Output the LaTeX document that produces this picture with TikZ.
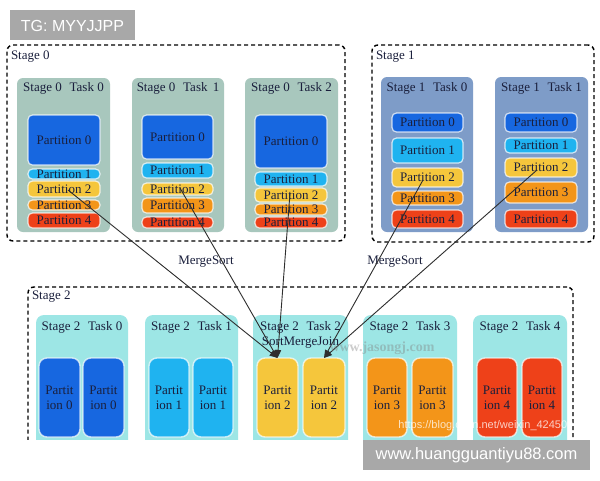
\documentclass[tikz,border=0pt]{standalone}
\usepackage{fontspec}
\setmainfont{Liberation Serif}
\newfontfamily\wmfont{Liberation Sans}
\usetikzlibrary{arrows.meta,calc}
\definecolor{sztask}{HTML}{A8C7BD}
\definecolor{sotask}{HTML}{7E9CC8}
\definecolor{sttask}{HTML}{9DE6E5}
\definecolor{pzero}{HTML}{1767E0}
\definecolor{pone}{HTML}{1FB3F0}
\definecolor{ptwo}{HTML}{F5C63C}
\definecolor{pthree}{HTML}{F39519}
\definecolor{pfour}{HTML}{EE4119}
\definecolor{txtc}{HTML}{1A1F3C}
\definecolor{wmgray}{HTML}{A8A8A8}
\definecolor{arrc}{HTML}{2E2E2E}
\newcommand\rbox[7]{%
  \pgfmathsetmacro\rbcx{(#3+#5)/2}\pgfmathsetmacro\rbcy{(#4+#6)/2}%
  \pgfmathsetmacro\rbww{#5-#3}\pgfmathsetmacro\rbhh{#6-#4}%
  \node[#1, minimum width=\rbww pt, minimum height=\rbhh pt] (#2) at (\rbcx,\rbcy) {#7};}
\begin{document}
\begin{tikzpicture}[x=1pt,y=-1pt,
  every node/.style={inner sep=0pt, outer sep=0pt, text=txtc, font=\fontsize{13}{15}\selectfont},
  stagebox/.style={draw=black, line width=1.4pt, dash pattern=on 4pt off 3pt, rounded corners=6pt},
  tasksz/.style={fill=sztask, rounded corners=6pt},
  taskso/.style={fill=sotask, rounded corners=6pt},
  taskst/.style={fill=sttask, rounded corners=8pt},
  part/.style={draw=white, draw opacity=0.75, line width=1.2pt, rounded corners=4.5pt},
  bigpart/.style={draw=white, draw opacity=0.7, line width=1.4pt, rounded corners=8pt, align=center, font=\fontsize{13}{15}\selectfont},
  conn/.style={draw=arrc, line width=0.9pt, -{Triangle[length=8pt,width=6pt]}},
  lbl/.style={anchor=west},
  ttl/.style={}
]
\useasboundingbox (0,0) rectangle (600,480);
\fill[white] (0,0) rectangle (600,480);

% ---------- Stage 0 ----------
\rbox{stagebox}{stz}{7}{45}{345}{241}{}
\node[lbl] (stzl) at (11,57) {Stage 0};
\rbox{tasksz}{sztz}{17}{78}{110}{232}{}
\rbox{tasksz}{szto}{132}{78}{224}{232}{}
\rbox{tasksz}{sztt}{245}{78}{338}{232}{}
\node (sztzl) at (63.5,88) {Stage 0\hspace{0.6em}Task 0};
\node (sztol) at (178,88) {Stage 0\hspace{0.6em}Task\hspace{0.4em}1};
\node (szttl) at (291.5,88) {Stage 0\hspace{0.6em}Task 2};
% task 0
\rbox{part,fill=pzero}{sztzpz}{28}{115}{100}{165}{Partition 0}
\rbox{part,fill=pone}{sztzpo}{28}{169}{100}{179}{Partition 1}
\rbox{part,fill=ptwo}{sztzpt}{28}{181}{100}{197}{Partition 2}
\rbox{part,fill=pthree}{sztzpr}{28}{200}{100}{210}{Partition 3}
\rbox{part,fill=pfour}{sztzpf}{28}{213}{100}{228}{Partition 4}
% task 1
\rbox{part,fill=pzero}{sztopz}{142}{115}{213}{159}{Partition 0}
\rbox{part,fill=pone}{sztopo}{142}{163}{213}{178}{Partition 1}
\rbox{part,fill=ptwo}{sztopt}{142}{183}{213}{195}{Partition 2}
\rbox{part,fill=pthree}{sztopr}{142}{198}{213}{213}{Partition 3}
\rbox{part,fill=pfour}{sztopf}{142}{217}{213}{228}{Partition 4}
% task 2
\rbox{part,fill=pzero}{szttpz}{255}{115}{327}{168}{Partition 0}
\rbox{part,fill=pone}{szttpo}{255}{172}{327}{186}{Partition 1}
\rbox{part,fill=ptwo}{szttpt}{255}{188}{327}{202}{Partition 2}
\rbox{part,fill=pthree}{szttpr}{255}{204}{327}{215}{Partition 3}
\rbox{part,fill=pfour}{szttpf}{255}{217}{327}{228}{Partition 4}

% ---------- Stage 1 ----------
\rbox{stagebox}{sto}{372}{45}{594}{242}{}
\node[lbl] (stol) at (376,57) {Stage 1};
\rbox{taskso}{sotz}{381}{77}{473}{232}{}
\rbox{taskso}{soto}{495}{77}{588}{232}{}
\node (sotzl) at (427,88) {Stage 1\hspace{0.6em}Task 0};
\node (sotol) at (541.5,88) {Stage 1\hspace{0.6em}Task 1};
\rbox{part,fill=pzero}{sotzpz}{392}{113}{463}{132}{Partition 0}
\rbox{part,fill=pone}{sotzpo}{392}{138}{463}{163}{Partition 1}
\rbox{part,fill=ptwo}{sotzpt}{392}{168}{463}{187}{Partition 2}
\rbox{part,fill=pthree}{sotzpr}{392}{191}{463}{205}{Partition 3}
\rbox{part,fill=pfour}{sotzpf}{392}{210}{463}{228}{Partition 4}
\rbox{part,fill=pzero}{sotopz}{505}{113}{577}{132}{Partition 0}
\rbox{part,fill=pone}{sotopo}{505}{138}{577}{153}{Partition 1}
\rbox{part,fill=ptwo}{sotopt}{505}{158}{577}{177}{Partition 2}
\rbox{part,fill=pthree}{sotopr}{505}{182}{577}{203}{Partition 3}
\rbox{part,fill=pfour}{sotopf}{505}{210}{577}{228}{Partition 4}

% ---------- Stage 2 ----------
\begin{scope}
\clip (0,0) rectangle (600,439);
\rbox{stagebox}{stt}{28}{287}{573}{475}{}
\rbox{taskst}{sttz}{36}{315}{128}{470}{}
\rbox{taskst}{stto}{145}{315}{238}{470}{}
\rbox{taskst}{sttt}{253}{315}{348}{470}{}
\rbox{taskst}{sttr}{363}{315}{457}{470}{}
\rbox{taskst}{sttf}{473}{315}{567}{470}{}
\end{scope}
\node[lbl] (sttl) at (32,297) {Stage 2};
\node (sttzl) at (82,327) {Stage 2\hspace{0.6em}Task 0};
\node (sttol) at (191.5,327) {Stage 2\hspace{0.6em}Task 1};
\node (secttl) at (300.5,327) {Stage 2\hspace{0.6em}Task 2};
\node (smj) at (300.5,343) {SortMergeJoin};
\node (sttrl) at (410,327) {Stage 2\hspace{0.6em}Task 3};
\node (sttfl) at (520,327) {Stage 2\hspace{0.6em}Task 4};
\rbox{bigpart,fill=pzero}{stzpa}{39}{358}{80}{437}{Partit\\ion 0}
\rbox{bigpart,fill=pzero}{stzpb}{83}{358}{124}{437}{Partit\\ion 0}
\rbox{bigpart,fill=pone}{stopa}{149}{358}{189}{437}{Partit\\ion 1}
\rbox{bigpart,fill=pone}{stopb}{193}{358}{233}{437}{Partit\\ion 1}
\rbox{bigpart,fill=ptwo}{sttpa}{257}{358}{298}{437}{Partit\\ion 2}
\rbox{bigpart,fill=ptwo}{sttpb}{303}{358}{345}{437}{Partit\\ion 2}
\rbox{bigpart,fill=pthree}{strpa}{367}{358}{407}{437}{Partit\\ion 3}
\rbox{bigpart,fill=pthree}{strpb}{412}{358}{453}{437}{Partit\\ion 3}
\rbox{bigpart,fill=pfour}{stfpa}{477}{358}{517}{437}{Partit\\ion 4}
\rbox{bigpart,fill=pfour}{stfpb}{522}{358}{562}{437}{Partit\\ion 4}

% ---------- labels ----------
\node (msa) at (206,262) {MergeSort};
\node (msb) at (395,262) {MergeSort};

% ---------- connectors ----------
\draw[conn] ($(sztzpt.center)+(4,1)$) -- (sttpa.north);
\draw[conn] ($(sztopt.center)+(2.5,-1)$) -- (sttpa.north);
\draw[conn] ($(szttpt.center)+(-1,-2)$) -- (sttpa.north);
\draw[conn] ($(sotzpt.center)+(-4.5,2.5)$) -- (sttpb.north);
\draw[conn] ($(sotopt.center)+(-4,2.5)$) -- (sttpb.north);

% ---------- watermarks ----------
\node[text=gray, text opacity=0.4, font=\fontsize{14}{16}\selectfont\bfseries] (wmj) at (382,348) {www.jasongj.com};
\node[text=white, text opacity=0.75, font=\wmfont\fontsize{11}{13}\selectfont] (wmc) at (492,426) {https://blog.csdn.net/weixin\_42450919};
\rbox{fill=wmgray}{wmtg}{10}{10}{135}{40}{}
\node[text=white, font=\wmfont\fontsize{16}{18}\selectfont] (wmtgt) at (72.5,25.5) {TG: MYYJJPP};
\rbox{fill=wmgray}{wmhg}{363}{440}{590}{470}{}
\node[text=white, font=\wmfont\fontsize{16.5}{18}\selectfont] (wmhgt) at (476.5,455.5) {www.huangguantiyu88.com};
\end{tikzpicture}
\end{document}
